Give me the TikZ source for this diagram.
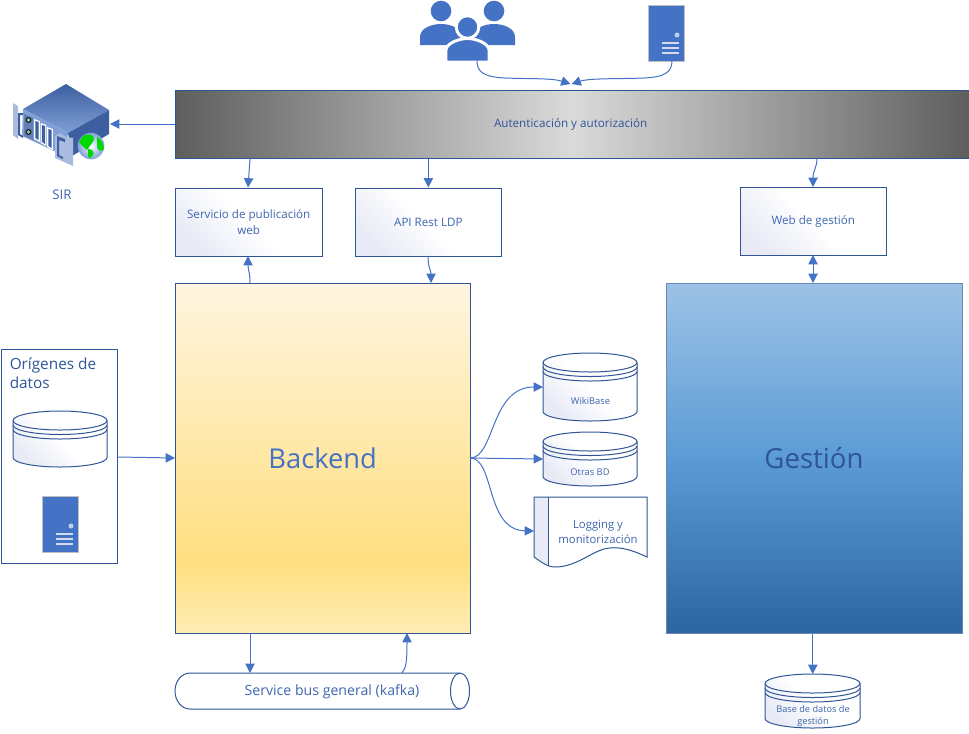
\documentclass[tikz,border=0pt]{standalone}
\usepackage{fontspec}
\setmainfont{Open Sans}
\usetikzlibrary{arrows.meta,calc}
\definecolor{edge}{HTML}{4472C4}
\definecolor{darkedge}{HTML}{2F5597}
\definecolor{txt}{HTML}{3F66B0}
\definecolor{txtdark}{HTML}{2F5597}
\definecolor{softblue}{HTML}{E8EBF6}
\definecolor{authdark}{HTML}{5E5E5E}
\definecolor{authlight}{HTML}{DADADA}
\definecolor{bk1}{HTML}{FFF5E0}
\definecolor{bk2}{HTML}{FFDF80}
\definecolor{bk3}{HTML}{FFEDB5}
\definecolor{ge1}{HTML}{9DC3E6}
\definecolor{ge2}{HTML}{5B9BD5}
\definecolor{ge3}{HTML}{2C659F}
\definecolor{srvA}{HTML}{7F9FD6}
\definecolor{srvB}{HTML}{3D5FA0}
\definecolor{earcol}{HTML}{A9BCDF}
\pgfdeclareverticalshading{softv}{100bp}{color(0bp)=(white);color(25bp)=(white);color(50bp)=(white);color(75bp)=(softblue);color(100bp)=(softblue)}
\pgfdeclarehorizontalshading{authbar}{100bp}{color(0bp)=(authdark);color(25bp)=(authdark);color(50bp)=(authlight);color(75bp)=(authdark);color(100bp)=(authdark)}
\pgfdeclareverticalshading{backendv}{100bp}{color(0bp)=(bk3);color(25bp)=(bk3);color(35bp)=(bk2);color(75bp)=(bk1);color(100bp)=(bk1)}
\pgfdeclareverticalshading{gestionv}{100bp}{color(0bp)=(ge3);color(25bp)=(ge3);color(50bp)=(ge2);color(75bp)=(ge1);color(100bp)=(ge1)}
\pgfdeclareverticalshading{srvtop}{100bp}{color(0bp)=(srvA);color(25bp)=(srvA);color(75bp)=(srvB);color(100bp)=(srvB)}
\tikzset{
  x=0.75pt,y=-0.75pt,
  arr/.style={draw=edge,line width=0.75pt,-{Triangle[length=7pt,width=7pt,fill=edge]}},
  biarr/.style={draw=edge,line width=0.75pt,{Triangle[length=7pt,width=7pt,fill=edge]}-{Triangle[length=7pt,width=7pt,fill=edge]}},
  softbox/.style={draw=darkedge,line width=0.75pt,shading=softv,shading angle=135,text=txt,font=\fontsize{8.7pt}{11.5pt}\selectfont,align=center,anchor=north west,inner sep=0pt},
  outline/.style={draw=darkedge,line width=0.75pt},
  lbl/.style={text=txt,font=\fontsize{7pt}{10pt}\selectfont,align=center,inner sep=0pt},
  iconnode/.style={inner sep=0pt,anchor=north west},
  srvicon/.pic={
    \fill[edge] (0,0) rectangle (36,56);
    \draw[draw=black!25,line width=0.75pt] (0,0) rectangle (36,56);
    \fill[white!65!edge] (29,30) circle[radius=2.5];
    \draw[white!75!edge,line width=0.9pt] (14,38)--(31,38) (14,43)--(31,43) (14,48)--(31,48);
  },
}
% name, x1, y1, x2, y2, top half-height, line gap
\newcommand{\dbcyl}[7]{%
  \pgfmathsetmacro{\rx}{(#4-#2)/2}%
  \pgfmathsetmacro{\ya}{#3+#6}%
  \pgfmathsetmacro{\yb}{#5-#6}%
  \pgfmathsetmacro{\yc}{\ya+#7}%
  \pgfmathsetmacro{\yd}{\ya+2*#7}%
  \path[outline,shading=softv,shading angle=135] (#2,\ya) arc[start angle=180,end angle=360,x radius=\rx,y radius=#6] -- (#4,\yb) arc[start angle=0,end angle=180,x radius=\rx,y radius=#6] -- cycle;
  \draw[outline] (#2,\ya) arc[start angle=180,end angle=0,x radius=\rx,y radius=#6];
  \draw[outline] (#2,\yc) arc[start angle=180,end angle=0,x radius=\rx,y radius=#6];
  \draw[outline] (#2,\yd) arc[start angle=180,end angle=0,x radius=\rx,y radius=#6];
  \node[inner sep=0pt,minimum width={(#4-#2)*0.75pt},minimum height={(#5-#3)*0.75pt},anchor=north west] (#1) at (#2,#3) {};
}
\begin{document}
\begin{tikzpicture}
\useasboundingbox (0,0) rectangle (969,733);

% Auth bar
\node[draw=darkedge,line width=0.75pt,shading=authbar,anchor=north west,inner sep=0pt,minimum width=595.5pt,minimum height=51pt,text=txtdark,font=\fontsize{8.75pt}{11pt}\selectfont] (auth) at (174.5,90) {\hspace{-2pt}Autenticación y autorización};

% boxes
\node[softbox,minimum width=110.6pt,minimum height=51pt] (srv) at (174.5,187.5) {Servicio de publicación\\web};
\node[softbox,minimum width=110pt,minimum height=51pt] (api) at (354.5,187.5) {API Rest LDP};
\node[softbox,minimum width=110pt,minimum height=51pt] (web) at (739.5,186.5) {Web de gestión};

% Backend and Gestion
\node[draw=darkedge,line width=0.75pt,shading=backendv,anchor=north west,inner sep=0pt,minimum width=221.5pt,minimum height=262.5pt,text=edge,font=\fontsize{20.5pt}{26pt}\selectfont] (backend) at (174.5,282.5) {Backend};
\node[draw=darkedge!70,line width=0.75pt,shading=gestionv,anchor=north west,inner sep=0pt,minimum width=222pt,minimum height=263pt,text=txtdark,font=\fontsize{20.7pt}{26pt}\selectfont] (gestion) at (665.5,282.5) {Gestión};

% Origenes
\node[draw=darkedge,fill=white,line width=0.75pt,anchor=north west,inner sep=0pt,minimum width=87.5pt,minimum height=160.5pt] (orig) at (0.5,348.5) {};
\node[anchor=north west,inner sep=0pt,align=left,text=txtdark,font=\fontsize{11.5pt}{14.6pt}\selectfont] (origt) at (9.5,357.5) {Orígenes de\\datos};
\dbcyl{origdb}{13}{411}{107}{467}{9.5}{4.5}
\node[iconnode,minimum width=27pt,minimum height=42pt] (origsrv) at (42,496) {};
\pic at (42,496) {srvicon};

% top server
\node[iconnode,minimum width=27pt,minimum height=42pt] (topsrv) at (648,5) {};
\pic at (648,5) {srvicon};

% people
\node[iconnode,minimum width=71pt,minimum height=46pt] (people) at (420,0) {};
\fill[edge] (441,11) circle[radius=10.3];
\fill[edge] (494,11) circle[radius=10.3];
\fill[edge] (420,45) -- (420,37) .. controls (420,28) and (432,24) .. (441,24) .. controls (450,24) and (462,28) .. (462,37) -- (462,45) -- cycle;
\fill[edge] (473,45) -- (473,37) .. controls (473,28) and (485,24) .. (494,24) .. controls (503,24) and (515,28) .. (515,37) -- (515,45) -- cycle;
\draw[white,line width=2.2pt,fill=edge] (467.5,27) circle[radius=11.3];
\draw[white,line width=2.2pt,fill=edge] (446,62) -- (446,50) .. controls (446,44) and (458,38.5) .. (467.5,38.5) .. controls (477,38.5) and (489,44) .. (489,50) -- (489,62) -- cycle;
\fill[white] (440,61) rectangle (495,64);

% SIR icon
\node[iconnode,minimum width=73pt,minimum height=62pt] (sir) at (13,83) {};
\begin{scope}
  \path[shading=srvtop] (66,84) -- (109,110) -- (68,133) -- (23,109) -- cycle;
  \fill[srvB] (109,110) -- (109,134) -- (72,156) -- (68,133) -- cycle;
  \fill[srvA] (23,109) -- (68,133) -- (65,156) -- (22,136) -- cycle;
  % left ear
  \fill[earcol] (13,103) -- (18,106) -- (18,139) -- (13,135) -- cycle;
  \fill[srvB] (18,113) -- (23,113) -- (23,115) -- (20,115) -- (20,134) -- (23,136) -- (23,138) -- (18,135) -- cycle;
  % buttons
  \fill[srvB!80!white] (24,114) -- (33,118) -- (33,140) -- (24,136) -- cycle;
  \fill[black!70!srvB] (28.5,120) circle[radius=3];
  \fill[black!70!srvB] (28.5,132) circle[radius=3];
  \fill[green!35!gray!60!white] (28.5,120) circle[radius=1.8];
  \fill[green!35!gray!60!white] (28.5,132) circle[radius=1.8];
  % bars
  \foreach \bx/\by in {37/119,43.5/123,50/127}{
    \fill[white] (\bx-2.8,\by) -- (\bx+2.8,\by+2) -- (\bx+2.8,\by+23) -- (\bx-2.8,\by+20) -- cycle;
    \fill[srvB] (\bx-1.6,\by+2) -- (\bx+1.6,\by+3) -- (\bx+1.6,\by+21) -- (\bx-1.6,\by+19) -- cycle;
  }
  % right ear
  \fill[earcol] (60,133) -- (66,137) -- (73,138) -- (73,166) -- (55,158) -- (55,136) -- cycle;
  \fill[srvB] (57,136) -- (65,139) -- (65,142) -- (59,140) -- (59,155) -- (63,157) -- (63,159) -- (57,156) -- cycle;
  % globe
  \shade[inner color=white,outer color=srvA] (91,146) circle[radius=13.3];
  \fill[green!85!black] (83,136) .. controls (88,133) and (95,135) .. (94,139) .. controls (93,143) and (90,145) .. (87,150) .. controls (84,148) and (80,143) .. (79,142) -- cycle;
  \fill[green!85!black] (97,137) .. controls (101,139) and (104,144) .. (104,149) .. controls (101,152) and (98,151) .. (97,147) -- cycle;
  \fill[green!85!black] (88,149) .. controls (92,149) and (95,152) .. (93,155) -- (90,158) -- (88,156) -- cycle;
\end{scope}
\node[lbl,text=txt,font=\fontsize{10pt}{11pt}\selectfont] (sirt) at (62,195) {SIR};

% Databases on right
\dbcyl{wiki}{543}{353}{637}{421}{9.5}{4.5}
\node[lbl] (wikit) at (590.5,400.5) {WikiBase};
\dbcyl{otras}{543}{432}{637}{486}{9.5}{4.5}
\node[lbl] (otrast) at (590,472) {Otras BD};

% Logging document
\path[fill=white] (534,497) -- (647,497) -- (647,557) .. controls (628,548) and (616,546) .. (604,549) .. controls (590,553) and (575,567) .. (555,567) .. controls (547,567) and (540,561) .. (534,557) -- cycle;
\path[fill=softblue] (534,497) -- (548,497) -- (548,564.5) .. controls (543,562) and (538,559.5) .. (534,557) -- cycle;
\draw[outline] (534,497) -- (647,497) -- (647,557) .. controls (628,548) and (616,546) .. (604,549) .. controls (590,553) and (575,567) .. (555,567) .. controls (547,567) and (540,561) .. (534,557) -- cycle;
\draw[outline] (548,497) -- (548,564.5);
\node[inner sep=0pt,minimum width=84.75pt,minimum height=52.5pt,anchor=north west] (logging) at (534,497) {};
\node[lbl,font=\fontsize{8.5pt}{11.8pt}\selectfont] (logt) at (598,532) {Logging y\\monitorización};

% Service bus
\path[outline,fill=white] (190,673) -- (460,673) arc[start angle=-90,end angle=90,x radius=9.5,y radius=18] -- (190,709) arc[start angle=90,end angle=270,x radius=15,y radius=18] -- cycle;
\draw[outline] (460,673) arc[start angle=270,end angle=90,x radius=9.5,y radius=18];
\node[inner sep=0pt,minimum width=221.25pt,minimum height=27pt,anchor=north west] (bus) at (175,673) {};
\node[lbl,font=\fontsize{10.6pt}{12pt}\selectfont] (bust) at (332,691.5) {Service bus general (kafka)};

% DB gestion
\dbcyl{dbg}{765}{674}{860}{728}{9.5}{4.5}
\node[lbl,font=\fontsize{6.9pt}{9.5pt}\selectfont] (dbgt) at (813,716) {Base de datos de\\gestión};

% connectors
\coordinate (pout) at (477,61);
\coordinate (sout) at (672,61);
\coordinate (in1) at (570.5,84);
\coordinate (in2) at (571.5,84);
\draw[arr] (pout) .. controls (477,72) and (484,77) .. (505,78) .. controls (530,79) and (552,78) .. (in1);
\draw[arr] (sout) .. controls (672,72) and (665,77) .. (644,78) .. controls (620,79) and (590,78) .. (in2);
\draw[arr] (auth.west |- 0,124) -- (110,124);
\draw[arr] (250,158) -- (248,187.5);
\draw[arr] (auth.south -| api.north) -- (api.north);
\coordinate (authw) at (817,158);
\draw[arr] (authw) .. controls (817,168) and (813,170) .. (813,187);
\coordinate (bk1) at (250,283);
\coordinate (srvb) at (248,256);
\draw[arr] (bk1) .. controls (250,272) and (248,270) .. (srvb);
\coordinate (apib) at (428,256);
\coordinate (bk2) at (431,283);
\draw[arr] (apib) .. controls (428,268) and (431,270) .. (bk2);
\draw[biarr] (813,255) -- (813,283);
\draw[arr] (orig.east |- 0,457) -- (175,458);
\coordinate (bke) at (470,458);
\draw[arr] (bke) .. controls (495,458) and (490,387) .. (543,387);
\draw[arr] (bke) -- (543,459);
\draw[arr] (bke) .. controls (495,458) and (485,530) .. (534,531);
\draw[arr] (250,633) -- (250,673);
\draw[arr] (402,673) .. controls (406,668) and (407,662) .. (407,633);
\draw[arr] (gestion.south -| dbg.north) -- (dbg.north);
\end{tikzpicture}
\end{document}
